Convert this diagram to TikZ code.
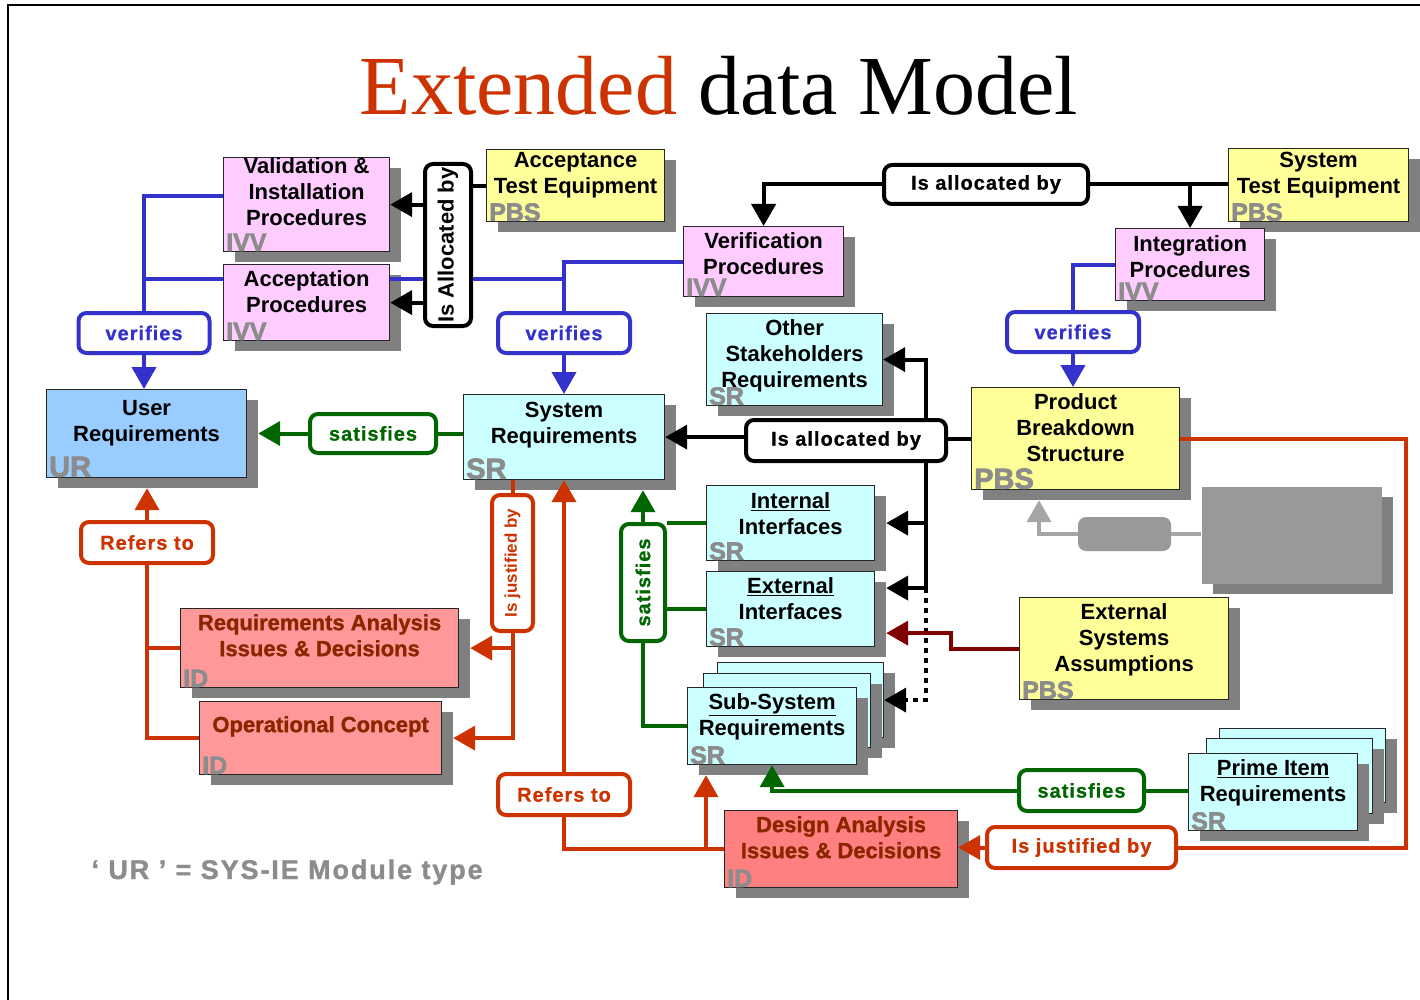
\documentclass[tikz,border=0pt]{standalone}
\usepackage{fontspec}
\setmainfont{Liberation Sans}
\newfontfamily\titlefont{Liberation Serif}
\newfontfamily\lblfont{Liberation Sans Bold}[LetterSpace=5, FakeBold=0.8]
\newfontfamily\notefont{Liberation Sans Bold}[LetterSpace=7, FakeBold=1.2]
\newfontfamily\tagfont{Liberation Sans Bold}[FakeBold=2.5]
\newfontfamily\idfont{Liberation Sans Bold}[FakeBold=1.2]
\usetikzlibrary{arrows.meta,shadows,calc}
\definecolor{pinkbox}{HTML}{FFCCFF}
\definecolor{yelbox}{HTML}{FFFF99}
\definecolor{cyanbox}{HTML}{CCFFFF}
\definecolor{urbox}{HTML}{99CCFF}
\definecolor{idbox}{HTML}{FF9999}
\definecolor{idboxb}{HTML}{FF8080}
\definecolor{shgray}{HTML}{808080}
\definecolor{taggray}{HTML}{8C8C8C}
\definecolor{gbox}{HTML}{999999}
\definecolor{gline}{HTML}{A6A6A6}
\definecolor{lnblue}{HTML}{3333CC}
\definecolor{lngreen}{HTML}{006600}
\definecolor{lnred}{HTML}{CC3300}
\definecolor{lndark}{HTML}{800000}
\definecolor{idtext}{HTML}{8B2500}
\tikzset{
  blk/.style={draw=black!85, line width=1.2pt, anchor=north west, inner sep=0pt,
    drop shadow={shadow xshift=11pt, shadow yshift=-10pt, fill=shgray, opacity=1}},
  hd/.style={anchor=north, align=center, inner xsep=0pt, inner ysep=6pt,
    font=\fontsize{22}{26}\selectfont\bfseries},
  idhd/.style={hd, text=idtext, font=\idfont\fontsize{22}{26}\selectfont},
  tg/.style={anchor=south west, inner xsep=3pt, inner ysep=1pt, text=taggray,
    font=\tagfont\fontsize{25}{25}\selectfont},
  bigtg/.style={tg, font=\tagfont\fontsize{29}{29}\selectfont},
  rel/.style={draw=#1, text=#1, fill=white, line width=4pt, rounded corners=8pt,
    inner sep=0pt, font=\lblfont\fontsize{20}{20}\selectfont},
  ln/.style={line width=4pt, #1},
  lna/.style={ln=#1, -{Triangle[length=22pt,width=24pt]}},
}
\begin{document}
\begin{tikzpicture}[x=1pt,y=-1pt]
  \useasboundingbox (0,0) rectangle (1420,1000);
  \draw[line width=1.5pt] (8,1000) -- (8,5) -- (1420,5);
  \node[anchor=base, font=\titlefont\fontsize{84}{84}\selectfont] (title) at (719,115)
    {\textcolor{lnred}{Extended} data Model};

  % modules
  \node[blk, fill=pinkbox, minimum width=166pt, minimum height=94pt,
    label={[hd, inner ysep=0pt]north:Validation \&\\Installation\\Procedures},
    label={[tg]south west:IVV}] (vip) at (223,157) {};
  \node[blk, fill=pinkbox, minimum width=166pt, minimum height=76pt,
    label={[hd]north:Acceptation\\Procedures}, label={[tg]south west:IVV}] (acp) at (223,264) {};
  \node[blk, fill=yelbox, minimum width=178pt, minimum height=72pt,
    label={[hd, inner ysep=3pt]north:Acceptance\\Test Equipment}, label={[tg]south west:PBS}] (ate) at (486,149) {};
  \node[blk, fill=pinkbox, minimum width=160pt, minimum height=70pt,
    label={[hd]north:Verification\\Procedures}, label={[tg]south west:IVV}] (vfp) at (683,226) {};
  \node[blk, fill=yelbox, minimum width=180pt, minimum height=73pt,
    label={[hd, inner ysep=4pt]north:System\\Test Equipment}, label={[tg]south west:PBS}] (ste) at (1228,148) {};
  \node[blk, fill=pinkbox, minimum width=149pt, minimum height=72pt,
    label={[hd, inner ysep=7pt]north:Integration\\Procedures}, label={[tg]south west:IVV}] (itp) at (1115,228) {};
  \node[blk, fill=urbox, minimum width=200pt, minimum height=88pt,
    label={[hd, inner ysep=11pt]north:User\\Requirements}, label={[bigtg]south west:UR}] (ur) at (46,389) {};
  \node[blk, fill=cyanbox, minimum width=201pt, minimum height=85pt,
    label={[hd, inner ysep=8pt]north:System\\Requirements}, label={[bigtg]south west:SR}] (sr) at (463,394) {};
  \node[blk, fill=cyanbox, minimum width=176pt, minimum height=92pt,
    label={[hd]north:Other\\Stakeholders\\Requirements}, label={[tg]south west:SR}] (osr) at (706,313) {};
  \node[blk, fill=yelbox, minimum width=208pt, minimum height=102pt,
    label={[hd]north:Product\\Breakdown\\Structure}, label={[bigtg]south west:PBS}] (pbs) at (971,387) {};
  \node[blk, fill=cyanbox, minimum width=168pt, minimum height=75pt,
    label={[hd, inner ysep=7pt]north:\underline{Internal}\\Interfaces}, label={[tg]south west:SR}] (iif) at (706,485) {};
  \node[blk, fill=cyanbox, minimum width=168pt, minimum height=75pt,
    label={[hd]north:\underline{External}\\Interfaces}, label={[tg]south west:SR}] (eif) at (706,571) {};
  \node[blk, fill=cyanbox, minimum width=166pt, minimum height=75pt] (ssrc) at (717,662) {};
  \node[blk, fill=cyanbox, minimum width=167pt, minimum height=74pt] (ssrb) at (703,673) {};
  \node[blk, fill=cyanbox, minimum width=169pt, minimum height=77pt,
    label={[hd]north:\underline{Sub-System}\\Requirements}, label={[tg]south west:SR}] (ssr) at (687,687) {};
  \node[blk, fill=idbox, minimum width=278pt, minimum height=79pt,
    label={[idhd]north:Requirements Analysis\\Issues \& Decisions},
    label={[tg]south west:ID}] (rai) at (180,608) {};
  \node[blk, fill=idbox, minimum width=242pt, minimum height=73pt,
    label={[idhd, inner ysep=15pt]north:Operational Concept},
    label={[tg]south west:ID}] (opc) at (199,701) {};
  \node[blk, fill=idboxb, minimum width=233pt, minimum height=77pt,
    label={[idhd]north:Design Analysis\\Issues \& Decisions},
    label={[tg]south west:ID}] (dai) at (724,810) {};
  \node[blk, fill=yelbox, minimum width=209pt, minimum height=102pt,
    label={[hd]north:External\\Systems\\Assumptions}, label={[tg]south west:PBS}] (esa) at (1019,597) {};
  \node[blk, fill=cyanbox, minimum width=166pt, minimum height=74pt] (pirc) at (1219,728) {};
  \node[blk, fill=cyanbox, minimum width=166pt, minimum height=75pt] (pirb) at (1206,738) {};
  \node[blk, fill=cyanbox, minimum width=169pt, minimum height=77pt,
    label={[hd]north:\underline{Prime Item}\\Requirements}, label={[tg]south west:SR}] (pir) at (1188,753) {};
  \node[blk, fill=gbox, draw=none, minimum width=180pt, minimum height=97pt] (gbig) at (1201,486) {};
  \node[fill=gbox, rounded corners=8pt, minimum width=93pt, minimum height=34pt] (gsm) at (1124.5,534) {};

  % relations
  \node[rel=lnblue, minimum width=131pt, minimum height=40pt] (vfl) at (144,333) {verifies};
  \node[rel=lnblue, minimum width=132pt, minimum height=40pt] (vfm) at (564,333) {verifies};
  \node[rel=lnblue, minimum width=132pt, minimum height=40pt] (vfr) at (1073,332) {verifies};
  \node[rel=black, minimum width=46pt, minimum height=162pt,
    font=\fontsize{22}{22}\selectfont\bfseries] (iab1) at (448,245) {\rotatebox{90}{Is Allocated by}};
  \node[rel=black, minimum width=204pt, minimum height=39pt] (iab2) at (986,184.5) {Is allocated by};
  \node[rel=black, minimum width=200pt, minimum height=41pt] (iab3) at (846,440.5) {Is allocated by};
  \node[rel=lngreen, minimum width=126pt, minimum height=39pt] (sat1) at (373,433.5) {satisfies};
  \node[rel=lngreen, minimum width=44pt, minimum height=117pt] (sat2) at (643,582.5) {\rotatebox{90}{satisfies}};
  \node[rel=lngreen, minimum width=125pt, minimum height=41pt] (sat3) at (1081.5,790.5) {satisfies};
  \node[rel=lnred, minimum width=132pt, minimum height=41pt] (ref1) at (147,542.5) {Refers to};
  \node[rel=lnred, minimum width=132pt, minimum height=41pt] (ref2) at (564,794.5) {Refers to};
  \node[rel=lnred, minimum width=41pt, minimum height=136pt,
    font=\fontsize{17}{17}\selectfont\bfseries] (jus1) at (512.5,563) {\rotatebox{90}{Is justified by}};
  \node[rel=lnred, minimum width=189pt, minimum height=41pt] (jus2) at (1081.5,847.5) {Is justified by};

  % shadow edges and bus points
  \coordinate (urb) at ([yshift=-10pt]ur.south);
  \coordinate (urs) at ([xshift=11pt]ur.east);
  \coordinate (srb) at ([yshift=-10pt]sr.south);
  \coordinate (rais) at ([xshift=11pt]rai.east);
  \coordinate (opcs) at ([xshift=11pt]opc.east);
  \coordinate (iifs) at ([xshift=11pt]iif.east);
  \coordinate (eifa) at ([xshift=11pt,yshift=21pt]eif.east);
  \coordinate (eifb) at ([xshift=11pt,yshift=-24pt]eif.east);
  \coordinate (ssrs) at ([xshift=19pt,yshift=-10pt]ssr.south west);
  \coordinate (pbss) at ([xshift=68pt,yshift=-10pt]pbs.south west);
  \coordinate (bus) at ([xshift=-22pt]iab3.south east);

  % verifies
  \draw[ln=lnblue] ([yshift=9pt]vip.west) -| (vfl.north);
  \draw[ln=lnblue] ([yshift=24pt]acp.west) -| (vfl.north);
  \draw[ln=lnblue] ([yshift=24pt]acp.east) -- ([yshift=24pt]acp.east -| iab1.west);
  \draw[ln=lnblue] ([yshift=24pt]acp.east -| iab1.east) -| (vfm.north);
  \draw[ln=lnblue] (vfp.west) -| (vfm.north);
  \draw[ln=lnblue] (itp.west) -| (vfr.north);
  \draw[lna=lnblue] (vfl.south) -- (vfl.south |- ur.north);
  \draw[lna=lnblue] (vfm.south) -- (vfm.south |- sr.north);
  \draw[lna=lnblue] (vfr.south) -- (vfr.south |- pbs.north);

  % is allocated by
  \draw[lna=black] (iab1.west |- vip.east) -- (vip.east);
  \draw[lna=black] (iab1.west |- acp.east) -- (acp.east);
  \draw[ln=black] (iab1.east |- ate.west) -- (ate.west);
  \draw[lna=black] (iab2.west) -| (vfp.north);
  \draw[ln=black] (iab2.east) -- (iab2.east -| ste.west);
  \draw[lna=black] (iab2.east -| itp.north) -- (itp.north);
  \draw[lna=black] (iab3.west |- sr.east) -- (sr.east);
  \draw[ln=black] (iab3.east |- pbs.west) -- (pbs.west);
  \draw[lna=black] ([xshift=-22pt]iab3.north east) |- (osr.east);
  \draw[lna=black] (bus) |- (iifs);
  \draw[lna=black] (bus) |- (eifa);
  \draw[lna=black, dash pattern=on 5pt off 5pt] (bus |- eifa) |- (ssrc.east);
  \draw[lna=lndark] (esa.west) -- ++(-68,0) |- (eifb);

  % satisfies
  \draw[ln=lngreen] (sr.west |- sat1.east) -- (sat1.east);
  \draw[lna=lngreen] (sat1.west) -- (sat1.west -| urs);
  \draw[lna=lngreen] (sat2.north) -- (sat2.north |- srb);
  \draw[ln=lngreen] (iif.west) -- (iif.west -| sat2.east);
  \draw[ln=lngreen] (eif.west) -- (eif.west -| sat2.east);
  \draw[ln=lngreen] (sat2.south) |- (ssr.west);
  \draw[ln=lngreen] (sat3.east) -- (sat3.east -| pir.west);
  \draw[lna=lngreen] (sat3.west) -| (ssr.south);

  % refers to / is justified by
  \draw[lna=lnred] (ref1.north) -- (ref1.north |- urb);
  \draw[ln=lnred] (ref1.south) |- (opc.west);
  \draw[ln=lnred] (rai.west) -- (rai.west -| ref1.south);
  \draw[ln=lnred] (jus1.north) -- (jus1.north |- sr.south);
  \draw[lna=lnred] (jus1.south) |- (opcs);
  \draw[lna=lnred] (jus1.south |- rais) -- (rais);
  \draw[lna=lnred] (ref2.north) -- (ref2.north |- sr.south);
  \draw[ln=lnred] (ref2.south) |- (dai.west);
  \draw[lna=lnred] (ssrs |- dai.west) -- (ssrs);
  \draw[ln=lnred] (pbs.east) -- ++(226,0) |- (jus2.east);
  \draw[lna=lnred] (jus2.west) -- (jus2.west -| dai.east);

  % greyed out module
  \draw[ln=gline] (gbig.west |- gsm.east) -- (gsm.east);
  \draw[lna=gline] (gsm.west) -| (pbss);

  \node[anchor=base west, text=taggray, font=\notefont\fontsize{27}{27}\selectfont]
    (note) at (88,879) {‘ UR ’ = SYS-IE Module type};
\end{tikzpicture}
\end{document}
